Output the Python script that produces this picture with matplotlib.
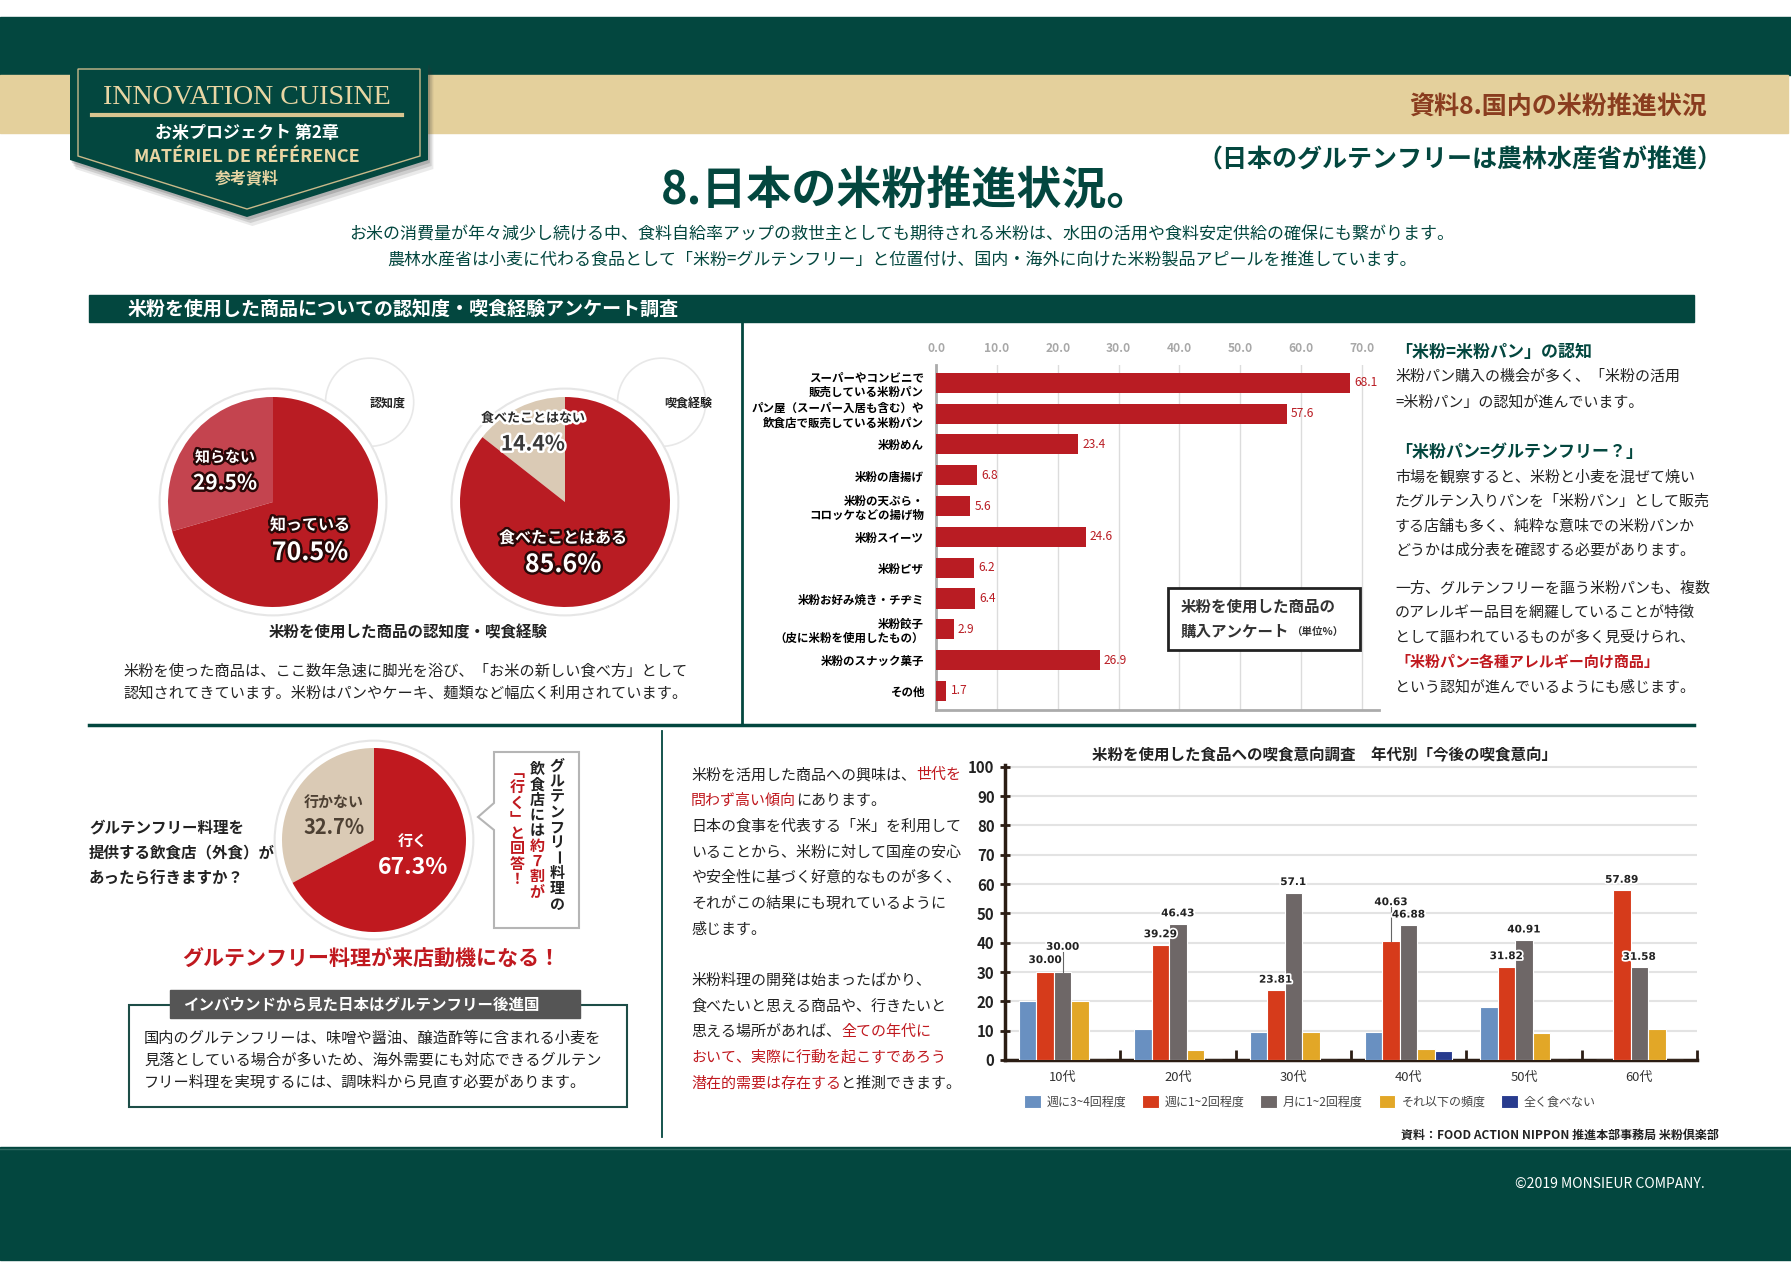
import numpy as np
import matplotlib
matplotlib.use('Agg')
import matplotlib.pyplot as plt
import matplotlib.patheffects as pe
from matplotlib.patches import Rectangle, Polygon, Circle

plt.rcParams['font.family'] = ['Noto Sans CJK JP', 'DejaVu Sans']

# ---- data ----
aware_labels = ['知らない', '知っている']
aware_values = [29.5, 70.5]
eaten_labels = ['食べたことはない', '食べたことはある']
eaten_values = [14.4, 85.6]
visit_labels = ['行かない', '行く']
visit_values = [32.7, 67.3]

products = ['スーパーやコンビニで\n販売している米粉パン',
            'パン屋（スーパー入居も含む）や\n飲食店で販売している米粉パン',
            '米粉めん', '米粉の唐揚げ', '米粉の天ぷら・\nコロッケなどの揚げ物',
            '米粉スイーツ', '米粉ピザ', '米粉お好み焼き・チヂミ',
            '米粉餃子\n（皮に米粉を使用したもの）', '米粉のスナック菓子', 'その他']
product_values = [68.1, 57.6, 23.4, 6.8, 5.6, 24.6, 6.2, 6.4, 2.9, 26.9, 1.7]
product_ticks = [0, 10, 20, 30, 40, 50, 60, 70]

ages = ['10代', '20代', '30代', '40代', '50代', '60代']
freq_names = ['週に3~4回程度', '週に1~2回程度', '月に1~2回程度', 'それ以下の頻度', '全く食べない']
weekly34 = [20.0, 10.71, 9.52, 9.38, 18.18, 0.0]
weekly12 = [30.00, 39.29, 23.81, 40.63, 31.82, 57.89]
monthly12 = [30.00, 46.43, 57.1, 46.0, 40.91, 31.58]
less_often = [20.0, 3.57, 9.52, 3.9, 9.09, 10.53]
never = [0.0, 0.0, 0.0, 3.1, 0.0, 0.0]
weekly12_text = ['30.00', '39.29', '23.81', '40.63', '31.82', '57.89']
monthly12_text = ['30.00', '46.43', '57.1', '46.88', '40.91', '31.58']
age_ticks = [0, 10, 20, 30, 40, 50, 60, 70, 80, 90, 100]

# ---- colours ----
GREEN = '#03473f'
BEIGE = '#e4d09c'
RED = '#b91c23'
PINK = '#c4444f'
SAND = '#dacab5'
INK = '#222222'

W, H = 1791, 1276
P = 0.72  # px -> pt

fig = plt.figure(figsize=(W / 100, H / 100), dpi=100)
bg = fig.add_axes([0, 0, 1, 1], zorder=0)
bg.set_xlim(0, W); bg.set_ylim(H, 0); bg.axis('off')
fg = fig.add_axes([0, 0, 1, 1], zorder=10)
fg.set_xlim(0, W); fg.set_ylim(H, 0); fg.axis('off'); fg.patch.set_alpha(0)
renderer = fig.canvas.get_renderer()


def fax(l, t, r, b, z=5):
    return fig.add_axes([l / W, 1 - b / H, (r - l) / W, (b - t) / H], zorder=z)


def txt(x, y, s, px, color=INK, weight='normal', ha='left', va='center', **kw):
    return fg.text(x, y, s, fontsize=px * P, color=color, fontweight=weight,
                   ha=ha, va=va, **kw)


def seg_line(x, y, parts, px, weight='normal'):
    for s, c in parts:
        t = txt(x, y, s, px, color=c, weight=weight)
        x += t.get_window_extent(renderer).width
    return x


# ---- header bands ----
bg.add_patch(Rectangle((0, 17), W, 58, color=GREEN))
bg.add_patch(Rectangle((0, 75), 1788, 58, color=BEIGE))

# badge
shield = [(70, 62), (428, 62), (428, 160), (247, 217), (70, 160)]
for d, a in [(9, 0.10), (6, 0.15), (3, 0.2)]:
    bg.add_patch(Polygon([(x + d * 0.6, y + d) for x, y in shield], color='#333333', alpha=a, lw=0))
bg.add_patch(Polygon(shield, color=GREEN, lw=0))
inner = [(78, 69), (420, 69), (420, 156), (247, 209), (78, 156)]
bg.add_patch(Polygon(inner, fill=False, ec='#c9b98a', lw=1))
txt(247, 97, 'INNOVATION CUISINE', 28, color='#e8d5a3', ha='center', family='Liberation Serif')
fg.plot([92, 402], [115, 115], color='#d8c590', lw=3)
txt(247, 133, 'お米プロジェクト 第2章', 17, color='white', weight='bold', ha='center')
txt(247, 157, 'MATÉRIEL DE RÉFÉRENCE', 18, color='#e8d5a3', weight='bold', ha='center')
txt(247, 178, '参考資料', 16, color='#e8d5a3', weight='bold', ha='center')

txt(1707, 108, '資料8.国内の米粉推進状況', 25, color='#8a3d1f', weight='bold', ha='right')
txt(1460, 160, '（日本のグルテンフリーは農林水産省が推進）', 25, color=GREEN, weight='bold', ha='center')
txt(907, 192, '8.日本の米粉推進状況。', 45, color=GREEN, weight='bold', ha='center')
txt(902, 235, 'お米の消費量が年々減少し続ける中、食料自給率アップの救世主としても期待される米粉は、水田の活用や食料安定供給の確保にも繋がります。',
    17, color=GREEN, ha='center')
txt(902, 261, '農林水産省は小麦に代わる食品として「米粉=グルテンフリー」と位置付け、国内・海外に向けた米粉製品アピールを推進しています。',
    17, color=GREEN, ha='center')

# section bar and dividers
bg.add_patch(Rectangle((89, 295), 1605, 27, color=GREEN))
txt(128, 309, '米粉を使用した商品についての認知度・喫食経験アンケート調査', 19, color='white', weight='bold')
bg.plot([742, 742], [322, 724], color=GREEN, lw=2)
bg.plot([89, 1694], [725, 725], color=GREEN, lw=2.5)
bg.plot([662, 662], [731, 1137], color=GREEN, lw=1.3)


# ---- pies ----
def pie_axes(cx, cy, r):
    return fax(cx - 1.5 * r, cy - 1.5 * r, cx + 1.5 * r, cy + 1.5 * r)


def draw_pie(a, values, colors, bubble=None):
    if bubble is not None:
        a.add_patch(Circle(bubble, 0.42, fc='white', ec='#e8e8e8', lw=1.2))
    a.add_patch(Circle((0, 0), 1.08, fc='white', ec='#e6e6e6', lw=1.5))
    a.pie(values, colors=colors, startangle=90, counterclock=True,
          radius=1, wedgeprops=dict(linewidth=0))
    a.set_xlim(-1.5, 1.5)
    a.set_ylim(-1.5, 1.5)
    a.set_aspect('equal')
    a.axis('off')


ax_p1 = pie_axes(273, 502, 105)
draw_pie(ax_p1, aware_values, [PINK, RED], (0.92, 0.95))
ax_p2 = pie_axes(565, 502, 105)
draw_pie(ax_p2, eaten_values, [SAND, RED], (0.92, 0.95))
ax_p3 = pie_axes(374, 840, 92)
draw_pie(ax_p3, visit_values, [SAND, '#c0191f'])

dark_o = [pe.withStroke(linewidth=3.5, foreground='#2a0808')]
white_o = [pe.withStroke(linewidth=3.5, foreground='white')]
txt(370, 403, '認知度', 12, weight='bold')
txt(664, 403, '喫食経験', 12, weight='bold')
txt(225, 457, aware_labels[0], 15, color='white', weight='bold', ha='center', path_effects=dark_o)
txt(225, 483, f'{aware_values[0]}%', 21, color='white', weight='bold', ha='center', path_effects=dark_o)
txt(310, 525, aware_labels[1], 16, color='white', weight='bold', ha='center', path_effects=dark_o)
txt(310, 553, f'{aware_values[1]}%', 25, color='white', weight='bold', ha='center', path_effects=dark_o)
txt(533, 418, eaten_labels[0], 13, color='#2a2a2a', weight='bold', ha='center', path_effects=white_o)
txt(533, 444, f'{eaten_values[0]}%', 21, color='#3a3a3a', weight='bold', ha='center', path_effects=white_o)
txt(563, 538, eaten_labels[1], 16, color='white', weight='bold', ha='center', path_effects=dark_o)
txt(563, 565, f'{eaten_values[1]}%', 25, color='white', weight='bold', ha='center', path_effects=dark_o)

txt(408, 633, '米粉を使用した商品の認知度・喫食経験', 15.5, weight='bold', ha='center')
txt(123, 671, '米粉を使った商品は、ここ数年急速に脚光を浴び、「お米の新しい食べ方」として', 15.2)
txt(123, 693, '認知されてきています。米粉はパンやケーキ、麺類など幅広く利用されています。', 15.2)

txt(334, 802, visit_labels[0], 15, color='#4d4033', weight='bold', ha='center')
txt(334, 828, f'{visit_values[0]}%', 20, color='#4d4033', weight='bold', ha='center')
txt(413, 842, visit_labels[1], 15, color='white', weight='bold', ha='center')
txt(413, 867, f'{visit_values[1]}%', 23, color='white', weight='bold', ha='center')

for i, s in enumerate(['グルテンフリー料理を', '提供する飲食店（外食）が', 'あったら行きますか？']):
    txt(89, 827 + i * 25.5, s, 15.5, weight='bold')

# callout with vertical text
call = [(494, 752), (579, 752), (579, 928), (494, 928), (494, 830), (478, 817), (494, 803)]
fg.add_patch(Polygon(call, fc='white', ec='#b5b5b5', lw=1.5, zorder=1))
cols = [(557, 766, [('グルテンフリー料理の', INK)]),
        (537, 769, [('飲食店には', INK), ('約７割が', '#c0191f')]),
        (517, 772, [('\ufe41行く\ufe42と回答！', '#c0191f')])]
for cx, cy, parts in cols:
    k = 0
    for s, c in parts:
        for ch in s:
            rot = -90 if ch == 'ー' else 0
            txt(cx, cy + k * 15.3, ch, 15, color=c, weight='bold', ha='center', rotation=rot)
            k += 1

txt(371, 958, 'グルテンフリー料理が来店動機になる！', 21, color='#c0191f', weight='bold', ha='center')

bg.add_patch(Rectangle((129, 1005), 498, 102, fill=False, ec='#1d4d47', lw=1.5))
fg.add_patch(Rectangle((170, 990), 410, 28, color='#555555', zorder=2))
txt(361, 1004, 'インバウンドから見た日本はグルテンフリー後進国', 15.5, color='white', weight='bold', ha='center', zorder=3)
for i, s in enumerate(['国内のグルテンフリーは、味噌や醤油、醸造酢等に含まれる小麦を',
                       '見落としている場合が多いため、海外需要にも対応できるグルテン',
                       'フリー料理を実現するには、調味料から見直す必要があります。']):
    txt(144, 1038 + i * 22, s, 15.2)

# ---- horizontal bar chart ----
ax1 = fax(936, 365, 1379, 710)
ypos = np.arange(len(products))
bars = ax1.barh(ypos, product_values, height=0.65, color=RED, zorder=3)
ax1.set_xlim(0, 72.8)
ax1.set_ylim(len(products) - 1 + 0.62, -0.58)
ax1.xaxis.tick_top()
ax1.set_xticks(product_ticks)
ax1.set_xticklabels([f'{t:.1f}' for t in product_ticks], fontweight='bold')
ax1.tick_params(axis='x', length=0, pad=7, labelsize=12 * P, labelcolor='#a8a8a8')
ax1.set_yticks(ypos)
ax1.set_yticklabels(products, fontsize=11.5 * P, fontweight='bold', linespacing=1.15)
ax1.tick_params(axis='y', length=0, pad=8.5)
ax1.grid(axis='x', color='#dcdcdc', lw=1)
ax1.set_axisbelow(True)
for s in ['top', 'right']:
    ax1.spines[s].set_visible(False)
for s in ['left', 'bottom']:
    ax1.spines[s].set_color('#ababab')
    ax1.spines[s].set_linewidth(2)
ax1.bar_label(bars, labels=[f'{v:.1f}' for v in product_values], padding=3,
              color=RED, fontsize=12 * P)

fg.add_patch(Rectangle((1168, 588), 192, 62, fc='white', ec='#222222', lw=2, zorder=1))
txt(1181, 607, '米粉を使用した商品の', 15.5, color='#333333', weight='bold', zorder=2)
xe = seg_line(1181, 632, [('購入アンケート', '#333333')], 15.5, weight='bold')
txt(xe + 2, 632, '（単位%）', 10.5, color='#333333', weight='bold', zorder=2)

# right-hand column
txt(1395, 352, '「米粉=米粉パン」の認知', 17, color=GREEN, weight='bold')
txt(1395, 377, '米粉パン購入の機会が多く、「米粉の活用', 15)
txt(1395, 402, '=米粉パン」の認知が進んでいます。', 15)
txt(1395, 452, '「米粉パン=グルテンフリー？」', 17, color=GREEN, weight='bold')
for i, s in enumerate(['市場を観察すると、米粉と小麦を混ぜて焼い', 'たグルテン入りパンを「米粉パン」として販売',
                       'する店舗も多く、純粋な意味での米粉パンか', 'どうかは成分表を確認する必要があります。']):
    txt(1395, 477 + i * 24.5, s, 15)
for i, s in enumerate(['一方、グルテンフリーを謳う米粉パンも、複数', 'のアレルギー品目を網羅していることが特徴',
                       'として謳われているものが多く見受けられ、']):
    txt(1395, 588 + i * 24.5, s, 15)
txt(1395, 662, '「米粉パン=各種アレルギー向け商品」', 15, color='#c0191f', weight='bold')
txt(1395, 687, 'という認知が進んでいるようにも感じます。', 15)

# middle column (bottom)
mid = [[('米粉を活用した商品への興味は、', INK), ('世代を', '#c0191f')],
       [('問わず高い傾向', '#c0191f'), ('にあります。', INK)],
       [('日本の食事を代表する「米」を利用して', INK)],
       [('いることから、米粉に対して国産の安心', INK)],
       [('や安全性に基づく好意的なものが多く、', INK)],
       [('それがこの結果にも現れているように', INK)],
       [('感じます。', INK)],
       None,
       [('米粉料理の開発は始まったばかり、', INK)],
       [('食べたいと思える商品や、行きたいと', INK)],
       [('思える場所があれば、', INK), ('全ての年代に', '#c0191f')],
       [('おいて、実際に行動を起こすであろう', '#c0191f')],
       [('潜在的需要は存在する', '#c0191f'), ('と推測できます。', INK)]]
for i, parts in enumerate(mid):
    if parts:
        seg_line(691, 775 + i * 25.7, parts, 15)

# ---- grouped bar chart ----
ax2 = fax(1005, 765, 1697, 1060)
xg = np.arange(len(ages))
bw = 0.152
series = [weekly34, weekly12, monthly12, less_often, never]
colors = ['#6990c1', '#d63b1b', '#6e6767', '#e2a727', '#283b8e']
handles = []
for i, (vals, col, name) in enumerate(zip(series, colors, freq_names)):
    b = ax2.bar(xg + (i - 2) * bw, vals, width=bw, color=col, edgecolor='white',
                linewidth=0.8, label=name, zorder=3)
    handles.append(b)
ax2.set_xlim(-0.5, 5.5)
ax2.set_ylim(0, 100.6)
ax2.set_yticks(age_ticks)
ax2.set_yticklabels([str(t) for t in age_ticks], fontweight='bold')
ax2.tick_params(axis='y', labelsize=15 * P, direction='inout', length=7, width=2,
                color='#2b1d14', labelcolor='#222222', pad=4)
ax2.set_xticks(xg)
ax2.set_xticklabels(ages)
ax2.tick_params(axis='x', which='major', length=0, pad=8, labelsize=13 * P, labelcolor='#333333')
ax2.set_xticks(np.arange(0.5, 6, 1), minor=True)
ax2.tick_params(axis='x', which='minor', direction='in', length=7, width=2, color='#2b1d14')
ax2.grid(axis='y', color='#e3e3e3', lw=1.5)
ax2.set_axisbelow(True)
for s in ['top', 'right']:
    ax2.spines[s].set_visible(False)
for s in ['left', 'bottom']:
    ax2.spines[s].set_color('#2b1d14')
    ax2.spines[s].set_linewidth(2.5)

# k = 0: weekly 1-2 (red), k = 1: monthly 1-2 (gray); (k, group) -> lift above bar
lift = {(1, 0): 8.6, (0, 3): 13.2, (0, 0): 4.1}
for k, (vals, labels) in enumerate([(weekly12, weekly12_text), (monthly12, monthly12_text)]):
    for j, (v, s) in enumerate(zip(vals, labels)):
        xp = xg[j] + k * bw - bw
        up = lift.get((k, j), 3.6)
        if up > 5:
            ax2.plot([xp, xp], [v, v + up - 1.8], color='#666666', lw=0.8, zorder=4)
        ax2.text(xp, v + up, s, ha='center', va='center', fontsize=10.5 * P, fontweight='bold',
                 family='DejaVu Sans', color='#222222', zorder=5,
                 path_effects=[pe.withStroke(linewidth=2.5, foreground='white')])

fig.legend(handles, freq_names, loc='center left', bbox_to_anchor=(1013 / W, 1 - 1102 / H),
           ncol=5, frameon=False, fontsize=12 * P, handlelength=1.4, handleheight=1.2,
           handletextpad=0.5, columnspacing=1.3, labelcolor='#444444')
txt(1324, 755, '米粉を使用した食品への喫食意向調査　年代別「今後の喫食意向」', 15.5, weight='bold', ha='center')
txt(1719, 1135, '資料：FOOD ACTION NIPPON 推進本部事務局 米粉倶楽部', 12, weight='bold', ha='right')

# ---- footer ----
bg.add_patch(Rectangle((0, 1147), W, 113, color=GREEN))
bg.plot([0, W], [1149, 1149], color='#2d6a62', lw=1)
txt(1705, 1184, '©2019 MONSIEUR COMPANY.', 14, color='white', ha='right')

fig.savefig('out.png', dpi=100)
